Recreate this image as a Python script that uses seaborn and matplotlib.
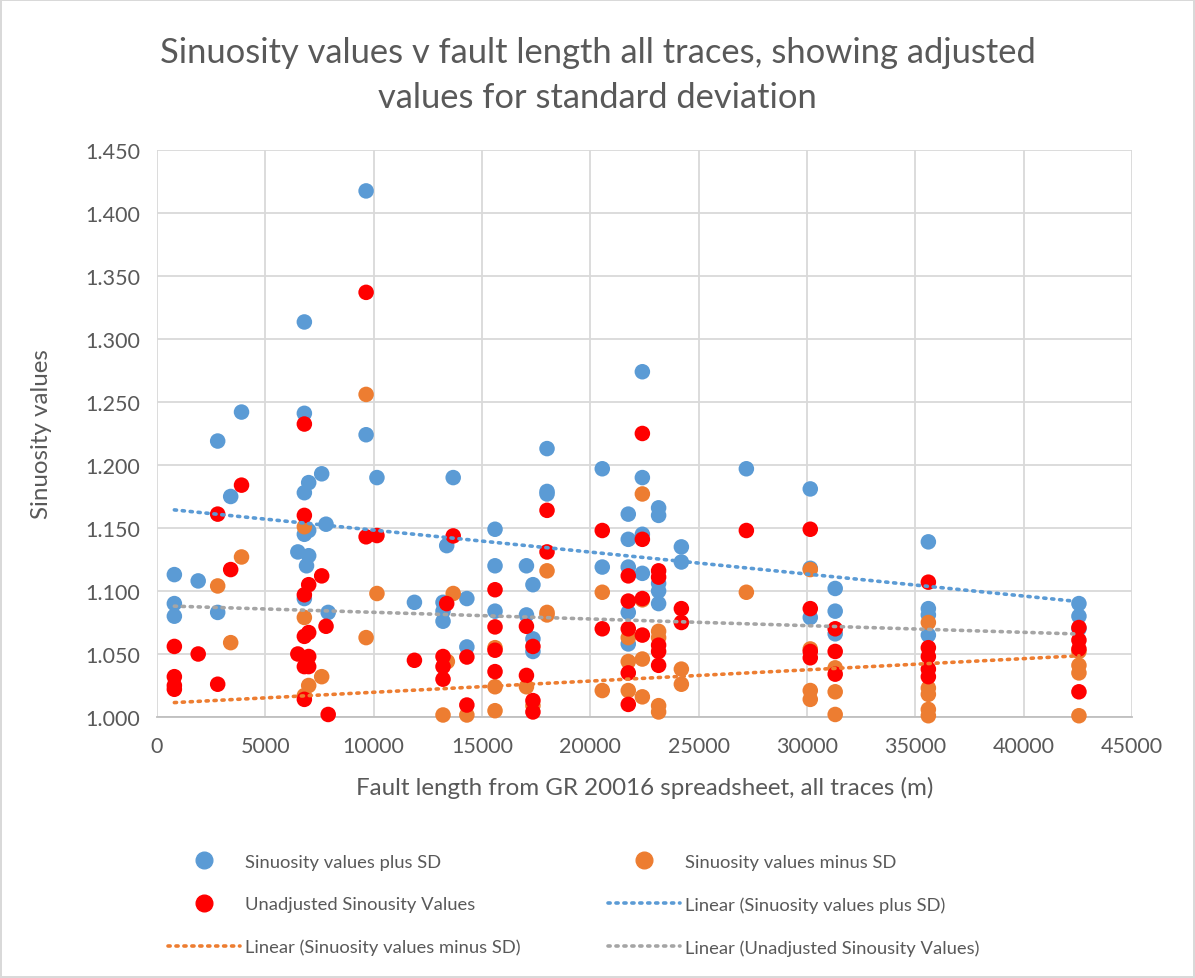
import matplotlib
matplotlib.use("Agg")
import matplotlib.pyplot as plt
import matplotlib.ticker as mticker
from matplotlib.lines import Line2D
import numpy as np
import pandas as pd
import seaborn as sns

# values
plus_x = [800, 800, 800, 1900, 2800, 2800, 3400, 3900, 6500,
          6800, 6800, 6800, 7000, 6800, 7000, 7000, 6900, 6800,
          7600, 7800, 7900, 9650, 9650, 10150, 11880,
          13200, 13200, 13200, 13370, 13670, 14300, 14300,
          15600, 15600, 15600, 17050, 17050, 17350, 17350, 17350,
          18000, 18000, 18000, 20550, 20550,
          21750, 21750, 21750, 21750, 21750,
          22400, 22400, 22400, 22400,
          23150, 23150, 23150, 23150, 23150,
          24200, 24200, 27200, 30150, 30150, 30150,
          31300, 31300, 31300, 35600, 35600, 35600, 35600,
          42550, 42550, 42550]
plus_y = [1.113, 1.090, 1.080, 1.108, 1.219, 1.083, 1.175, 1.242, 1.131,
          1.3135, 1.241, 1.178, 1.186, 1.145, 1.148, 1.128, 1.120, 1.094,
          1.193, 1.153, 1.083, 1.4175, 1.224, 1.190, 1.091,
          1.091, 1.084, 1.076, 1.136, 1.190, 1.094, 1.0556,
          1.149, 1.120, 1.084, 1.120, 1.081, 1.105, 1.062, 1.052,
          1.213, 1.179, 1.177, 1.197, 1.119,
          1.161, 1.141, 1.119, 1.083, 1.058,
          1.274, 1.190, 1.145, 1.114,
          1.166, 1.160, 1.106, 1.100, 1.090,
          1.135, 1.123, 1.197, 1.181, 1.118, 1.079,
          1.102, 1.084, 1.066, 1.139, 1.086, 1.081, 1.065,
          1.090, 1.080, 1.070]

# the last group of minus-SD values falls below 1.000 (off the axis),
# estimated from the matching plus-SD / unadjusted pairs
minus_x = [2800, 3400, 3900, 6800, 6800, 7000, 6800, 7600,
           9650, 9650, 10150, 13400, 13200, 13670, 14300,
           15600, 15600, 15600, 17050, 17350,
           18000, 18000, 18000, 20550, 20550,
           21750, 21750, 21750, 22400, 22400, 22400, 22400,
           23150, 23150, 23150, 23150, 24200, 24200, 27200,
           30150, 30150, 30150, 30150, 31300, 31300, 31300,
           35600, 35600, 35600, 35600, 35600,
           42550, 42550, 42550, 42550,
           800, 800, 800, 800, 1900, 2800, 6500,
           6800, 6800, 6800, 6800, 7000, 7000, 7800, 7900,
           11880, 13200, 13200, 14300, 15600, 17050, 17350, 17350,
           21750, 21750, 23150]
minus_y = [1.104, 1.059, 1.127, 1.151, 1.079, 1.025, 1.017, 1.032,
           1.256, 1.063, 1.098, 1.044, 1.0016, 1.098, 1.0016,
           1.055, 1.024, 1.005, 1.024, 1.009,
           1.116, 1.083, 1.081, 1.099, 1.021,
           1.063, 1.044, 1.021, 1.177, 1.093, 1.046, 1.016,
           1.068, 1.063, 1.009, 1.004, 1.038, 1.026, 1.099,
           1.117, 1.054, 1.021, 1.014, 1.039, 1.020, 1.002,
           1.075, 1.023, 1.018, 1.006, 1.001,
           1.052, 1.041, 1.035, 1.001,
           0.985, 0.960, 0.955, 0.945, 0.985, 0.962, 0.960,
           0.975, 0.960, 0.978, 0.935, 0.978, 0.952, 0.985, 0.915,
           0.995, 0.993, 0.982, 0.963, 0.990, 0.985, 0.964, 0.956,
           0.987, 0.962, 0.992]

unadj_x = [800, 800, 800, 800, 1900, 2800, 2800, 3400, 3900, 6500,
           6800, 6800, 6800, 6800, 6800, 7000, 7000, 7000, 7000, 6800,
           7600, 7800, 7900, 9650, 9650, 10150, 11880,
           13200, 13200, 13200, 13370, 13670, 14300, 14300,
           15600, 15600, 15600, 15600, 17050, 17050, 17350, 17350, 17350,
           18000, 18000, 20550, 20550,
           21750, 21750, 21750, 21750, 21750,
           22400, 22400, 22400, 22400,
           23150, 23150, 23150, 23150, 23150,
           24200, 24200, 27200, 30150, 30150, 30150, 30150,
           31300, 31300, 31300, 35600, 35600, 35600, 35600, 35600,
           42550, 42550, 42550, 42550]
unadj_y = [1.056, 1.032, 1.025, 1.022, 1.050, 1.161, 1.026, 1.117, 1.184, 1.050,
           1.2325, 1.160, 1.097, 1.064, 1.040, 1.105, 1.067, 1.048, 1.040, 1.014,
           1.112, 1.072, 1.002, 1.337, 1.143, 1.144, 1.045,
           1.048, 1.040, 1.030, 1.090, 1.1437, 1.0476, 1.0095,
           1.101, 1.0715, 1.053, 1.036, 1.072, 1.033, 1.056, 1.013, 1.004,
           1.164, 1.131, 1.148, 1.070,
           1.112, 1.092, 1.070, 1.035, 1.010,
           1.225, 1.141, 1.094, 1.065,
           1.116, 1.111, 1.057, 1.052, 1.041,
           1.086, 1.075, 1.148, 1.149, 1.086, 1.052, 1.047,
           1.070, 1.052, 1.034, 1.107, 1.055, 1.048, 1.038, 1.032,
           1.071, 1.061, 1.054, 1.020]

names = ["Sinuosity values plus SD", "Sinuosity values minus SD",
         "Unadjusted Sinousity Values"]
colors = ["#5B9BD5", "#ED7D31", "#FF0000"]
trend_colors = ["#5B9BD5", "#ED7D31", "#A5A5A5"]

df = pd.concat([
    pd.DataFrame({"length": plus_x, "sinuosity": plus_y, "series": names[0]}),
    pd.DataFrame({"length": minus_x, "sinuosity": minus_y, "series": names[1]}),
    pd.DataFrame({"length": unadj_x, "sinuosity": unadj_y, "series": names[2]}),
], ignore_index=True)

sns.set_style("white")
plt.rcParams["font.family"] = ["Lato", "DejaVu Sans"]
text_col = "#595959"
dots = (0, (0.6, 1.6))

fig = plt.figure(figsize=(11.95, 9.79), dpi=100)
fig.patch.set_edgecolor("#D9D9D9")
fig.patch.set_linewidth(1.5)
ax = fig.add_axes([0.1314, 0.2666, 0.8159, 0.5792])

# like Excel: points off the value axis are not drawn, points on it are not clipped
shown = df[df["sinuosity"] >= 1.0]
sns.scatterplot(data=shown, x="length", y="sinuosity", hue="series",
                palette=dict(zip(names, colors)), s=125, linewidth=0,
                legend=False, ax=ax, zorder=3, clip_on=False)

# linear trendlines
for name, tc in zip(names, trend_colors):
    sub = df[df["series"] == name]
    sns.regplot(data=sub, x="length", y="sinuosity", scatter=False, ci=None,
                truncate=True, ax=ax,
                line_kws=dict(color=tc, lw=2.6, linestyle=dots,
                              dash_capstyle="round", zorder=4))

ax.set_xlim(0, 45000)
ax.set_ylim(1.0, 1.45)
ax.set_xticks(np.arange(0, 45001, 5000))
ax.set_yticks(np.arange(1.0, 1.4501, 0.05))
ax.yaxis.set_major_formatter(mticker.FormatStrFormatter("%.3f"))
ax.grid(True, color="#D9D9D9", lw=1.3)
ax.set_axisbelow(True)
for sp in ["top", "right", "left"]:
    ax.spines[sp].set_visible(False)
ax.spines["bottom"].set_color("#BFBFBF")
ax.spines["bottom"].set_linewidth(1.3)
ax.tick_params(axis="both", labelsize=15.5, colors=text_col, length=0)
ax.tick_params(axis="y", pad=12)
ax.tick_params(axis="x", length=6, color="#BFBFBF", direction="out", pad=8)

ax.set_xlabel("Fault length from GR 20016 spreadsheet, all traces (m)",
              fontsize=17.4, color=text_col, labelpad=14)
ax.set_ylabel("Sinuosity values", fontsize=17.4, color=text_col, labelpad=24)

fig.text(0.5, 0.923, "Sinuosity values v fault length all traces, showing adjusted\nvalues for standard deviation",
         ha="center", va="center", fontsize=24.8, color=text_col, linespacing=1.5)

def mk(c):
    return Line2D([], [], marker="o", ls="none", color=c, markersize=12)

def ln(c):
    return Line2D([], [], color=c, lw=2.6, linestyle=dots, dash_capstyle="round")

# two one-column legends placed like the Excel legend grid
cols = [
    ([mk(colors[0]), mk(colors[2]), ln(trend_colors[1])],
     [names[0], names[2], "Linear (Sinuosity values minus SD)"], 159),
    ([mk(colors[1]), ln(trend_colors[0]), ln(trend_colors[2])],
     [names[1], "Linear (Sinuosity values plus SD)",
      "Linear (Unadjusted Sinousity Values)"], 599),
]
for hs, ls, x0 in cols:
    leg = fig.legend(hs, ls, loc="upper left",
                     bbox_to_anchor=(x0 / 1195, 0.1365), frameon=False,
                     fontsize=13.2, handlelength=3.9, handletextpad=0.3,
                     labelspacing=1.45, borderpad=0)
    for t in leg.get_texts():
        t.set_color(text_col)

fig.savefig("out.png", dpi=100)
